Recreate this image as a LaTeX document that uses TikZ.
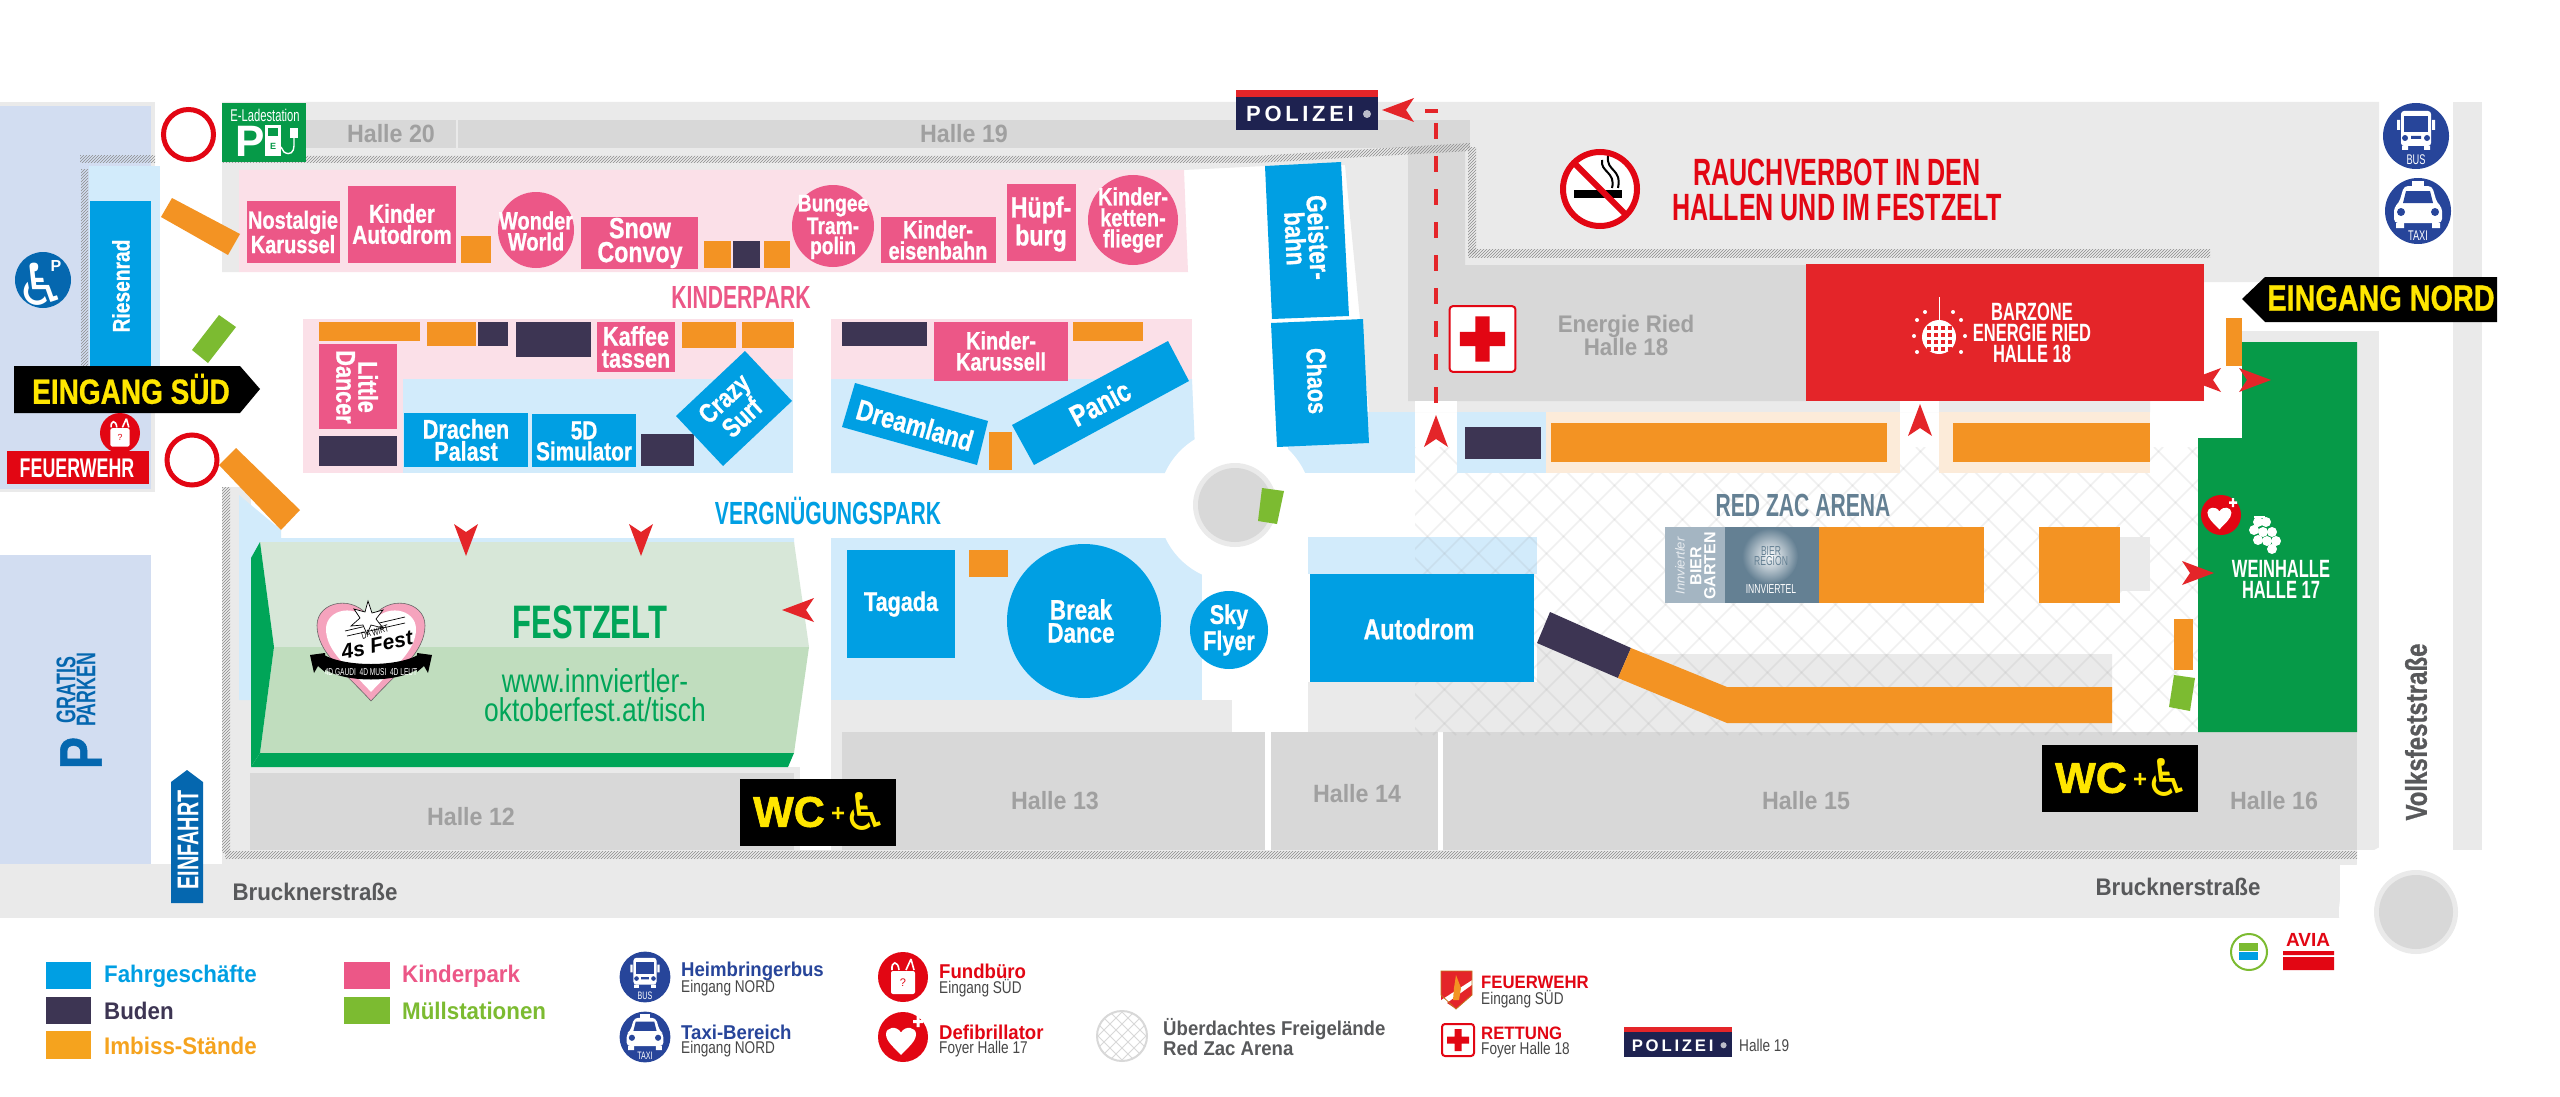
\documentclass[tikz,border=0pt]{standalone}
\usepackage{fontspec}
\usetikzlibrary{patterns}
\setmainfont{Liberation Sans}
\newfontfamily\condfont[FakeStretch=0.8, BoldFeatures={FakeBold=0.8}]{Liberation Sans}
\newfontfamily\halffont[FakeStretch=0.93]{Liberation Sans}
\newfontfamily\dispfont[FakeStretch=0.66]{Liberation Sans}
\newfontfamily\heavyfont[BoldFeatures={FakeBold=1.5}]{Liberation Sans}
\newfontfamily\symfont{DejaVu Sans}
\newcommand{\fsz}[2]{\fontsize{#1}{#2}\selectfont}
\definecolor{ride}{RGB}{0, 159, 227}
\definecolor{ridebg}{RGB}{210, 235, 251}
\definecolor{stall}{RGB}{61, 53, 83}
\definecolor{snack}{RGB}{243, 147, 35}
\definecolor{snackbg}{RGB}{252, 235, 217}
\definecolor{kids}{RGB}{236, 87, 135}
\definecolor{kidsbg}{RGB}{251, 224, 232}
\definecolor{bin}{RGB}{124, 187, 49}
\definecolor{road}{RGB}{234, 234, 234}
\definecolor{hall}{RGB}{216, 216, 216}
\definecolor{hallink}{RGB}{160, 160, 160}
\definecolor{streetink}{RGB}{88, 89, 91}
\definecolor{parking}{RGB}{210, 221, 241}
\definecolor{signblue}{RGB}{5, 103, 175}
\definecolor{navyblue}{RGB}{39, 69, 154}
\definecolor{alarm}{RGB}{228, 37, 41}
\definecolor{rescue}{RGB}{226, 6, 19}
\definecolor{wine}{RGB}{6, 154, 72}
\definecolor{tentgreen}{RGB}{0, 165, 88}
\definecolor{tenttop}{RGB}{215, 231, 216}
\definecolor{tentlow}{RGB}{192, 221, 190}
\definecolor{beerblue}{RGB}{100, 128, 147}
\definecolor{beerlight}{RGB}{164, 181, 194}
\definecolor{police}{RGB}{30, 34, 80}
\definecolor{signyellow}{RGB}{255, 230, 0}
\tikzset{
    every node/.style={inner sep=0pt, align=center},
    condlabel/.style={font=\condfont\bfseries\fsz{#1}{\the\numexpr#1*82/100\relax}},
    halflabel/.style={font=\halffont\bfseries\fsz{#1}{#1}},
    displabel/.style={font=\dispfont\bfseries\fsz{#1}{#1}},
    ridetext/.style={condlabel=#1, text=white},
    halltext/.style={halflabel=25, text=hallink},
    streettext/.style={halflabel=24, text=streetink},
    legendhead/.style={halflabel=24, anchor=west},
    legendtwo/.style={halflabel=20, anchor=west},
    legendsub/.style={font=\condfont\fsz{17}{17}, text=black!72, anchor=west},
    hatchline/.style={pattern=north east lines, pattern color=black!45},
    redtip/.pic={\fill[alarm] (16,0) -- (-16,-12) -- (-8,0) -- (-16,12) -- cycle;},
    busicon/.pic={
        \fill[navyblue] (0,0) circle (33);
        \fill[white, rounded corners=3] (-15,-25) rectangle (15,10);
        \fill[white] (-19,-16) rectangle (-16,-6) (16,-16) rectangle (19,-6);
        \fill[navyblue] (-12,-20) rectangle (12,-4);
        \fill[white] (-12,-24) rectangle (12,-22);
        \fill[navyblue] (-11,2) circle (3) (11,2) circle (3) (-5,0) rectangle (5,3);
        \fill[white] (-14,10) rectangle (-8,14) (8,10) rectangle (14,14);
        \node[transform shape, font=\dispfont\fsz{14}{14}, text=white] (-lab) at (0,24) {BUS};},
    taxiicon/.pic={
        \fill[navyblue] (0,0) circle (33);
        \fill[white] (-6,-30) rectangle (6,-25);
        \fill[white, rounded corners=4] (-14,-25) -- (14,-25) -- (19,-8) -- (24,-4) -- (24,12) -- (-24,12) -- (-24,-4) -- (-19,-8) -- cycle;
        \fill[navyblue] (-12,-20) -- (12,-20) -- (15,-8) -- (-15,-8) -- cycle;
        \fill[navyblue] (-17,1) circle (4) (17,1) circle (4);
        \fill[white] (-22,12) rectangle (-14,17) (14,12) rectangle (22,17);
        \node[transform shape, font=\dispfont\fsz{14}{14}, text=white] (-lab) at (0,25) {TAXI};},
    lostbag/.pic={
        \fill[rescue] (0,0) circle (25);
        \fill[white, rounded corners=2] (-12,-6) rectangle (12,17);
        \draw[white, line width=1.6] (-11,-7) .. controls (-12,-16) and (-5,-17) .. (-4,-7) (3,-7) -- (8,-18) (8,-18) -- (11,-7);
        \node[transform shape, font=\fsz{11}{11}, text=rescue] (-lab) at (0,6) {?};},
    defibicon/.pic={
        \fill[rescue] (0,0) circle (25);
        \fill[white, xshift=-2, yshift=-3, scale=15] (0,1) .. controls (-.5,.45) and (-1,.1) .. (-1,-.4) .. controls (-1,-.85) and (-.3,-1) .. (0,-.5) .. controls (.3,-1) and (1,-.85) .. (1,-.4) .. controls (1,.1) and (.5,.45) .. (0,1) -- cycle;
        \fill[white] (10,-17) rectangle (20,-14) (13.5,-21) rectangle (16.5,-10);},
    rescuebox/.pic={
        \draw[rescue, fill=white, line width=2, rounded corners=3] (-16,-16) rectangle (16,16);
        \fill[rescue] (-3.5,-11) rectangle (3.5,11) (-11,-3.5) rectangle (11,3.5);},
    policesign/.pic={
        \fill[police] (0,0) rectangle (142,40);
        \fill[alarm] (0,0) rectangle (142,7);
        \node[transform shape, font=\bfseries\fsz{22}{22}, text=white] (-lab) at (64,24) {P\,O\,L\,I\,Z\,E\,I};
        \fill[white!70!police] (131,24) circle (4);},
    wcsign/.pic={
        \fill[black] (0,0) rectangle (156,67);
        \node[font=\heavyfont\bfseries\fsz{43}{43}, text=signyellow] (-wc) at (49,33) {WC};
        \node[font=\bfseries\fsz{24}{24}, text=signyellow] (-plus) at (98,35) {+};
        \node[font=\symfont\fsz{52}{52}, text=signyellow] (-chair) at (126,32) {♿};},
}
\begin{document}
\begin{tikzpicture}[x=1pt, y=-1pt]
    \useasboundingbox (0,0) rectangle (2560,1097);
    \fill[white] (0,0) rectangle (2560,1097);
    % Roads and grounds
    \fill[road] (0,102) rectangle (155,492);
    \fill[parking] (0,106) rectangle (151,489);
    \fill[parking] (0,555) rectangle (151,864);
    \fill[road] (222,102) -- (2379,102) -- (2379,282) -- (2204,282) -- (2204,401) -- (2150,401) -- (2150,412)
        -- (1369,412) -- (1345,165) -- (1265,166) -- (1184,170) -- (239,170) -- (239,272) -- (222,272) -- cycle;
    \fill[road] (2242,331) rectangle (2379,850);
    \fill[road] (2453,102) rectangle (2482,850);
    \fill[road] (222,487) rectangle (251,850);
    \fill[road] (222,767) rectangle (800,850);
    \fill[road] (0,864) rectangle (2340,918);
    \fill[road] (222,850) rectangle (2357,865);
    \fill[road] (831,700) rectangle (1232,850);
    \fill[road] (1308,682) -- (1537,682) -- (1537,643) -- (1656,654) -- (2112,654) -- (2112,732) -- (1308,732) -- cycle;
    % Halls
    \fill[hall] (306,120) rectangle (456,148);
    \fill[hall] (458,120) rectangle (1470,148);
    \fill[hall] (1408,148) -- (1465,148) -- (1465,265) -- (1806,265) -- (1806,401) -- (1408,401) -- cycle;
    \fill[hall] (250,773) rectangle (794,850);
    \fill[hall] (842,732) rectangle (1265,850);
    \fill[hall] (1271,732) rectangle (1438,850);
    \fill[hall] (1443,732) rectangle (2357,850);
    \fill[white] (1415,401) rectangle (1457,412);
    \fill[white] (1900,401) rectangle (1939,412);
    % Areas
    \fill[ridebg] (1308,537) rectangle (1537,574);
    \begin{scope}
        \clip (1415,447) rectangle (2198,735);
        \foreach \i in {0,34,...,1200} {
            \draw[black!40, opacity=.14, line width=1.6] (1100+\i,447) -- (1100+\i+288,735);
            \draw[black!40, opacity=.14, line width=1.6] (1415+\i,447) -- (1415+\i-288,735);
        }
    \end{scope}
    \fill[kidsbg] (239,170) -- (1184,170) -- (1188,272) -- (239,272) -- cycle;
    \fill[kidsbg] (303,319) rectangle (793,473);
    \fill[ridebg] (403,379) rectangle (793,473);
    \fill[kidsbg] (831,319) -- (1192,319) -- (1192,379) -- (831,379) -- cycle;
    \fill[ridebg] (831,379) -- (1192,379) -- (1196,473) -- (831,473) -- cycle;
    \fill[ridebg] (1288,412) rectangle (1415,473);
    \fill[ridebg] (1457,412) rectangle (1546,473);
    \fill[snackbg] (1546,412) rectangle (1900,473);
    \fill[snackbg] (1939,412) rectangle (2150,473);
    \fill[ridebg] (831,538) rectangle (1202,700);
    \fill[ridebg] (239,495) -- (281,530) -- (281,538) -- (794,538) -- (794,545) -- (260,545) -- (251,700) -- (239,700) -- cycle;
    \fill[ridebg] (89,166) rectangle (160,366);
    % Roundabouts
    \fill[white] (1235,505) circle (77);
    \fill[road] (1235,505) circle (42);
    \fill[hall] (1235,505) circle (37);
    \fill[white] (2411,912) circle (72);
    \fill[road] (2416,912) circle (42);
    \fill[hall] (2416,912) circle (37);
    % Fence lines
    \fill[hatchline] (80,156) rectangle (155,163);
    \fill[hatchline] (81,170) rectangle (88,366);
    \fill[hatchline] (222,156) -- (1255,156) -- (1470,143) -- (1470,151) -- (1255,163) -- (222,163) -- cycle;
    \fill[hatchline] (1468,148) rectangle (1476,253);
    \fill[hatchline] (1468,249) rectangle (2210,257);
    \fill[hatchline] (222,487) rectangle (230,852);
    \fill[hatchline] (225,851) rectangle (2357,858);
    % Kinderpark top row
    \fill[kids] (247,201) rectangle (340,263);
    \node[ridetext=25] (nostalgie) at (293,232) {Nostalgie\\Karussel};
    \fill[kids] (348,186) rectangle (456,263);
    \node[ridetext=26] (autodromkids) at (402,224) {Kinder\\Autodrom};
    \fill[snack] (461,236) rectangle (491,263);
    \fill[kids] (536,230) circle (38);
    \node[ridetext=25] (wonder) at (536,231) {Wonder\\World};
    \fill[kids] (581,217) rectangle (698,269);
    \node[ridetext=29] (snow) at (640,243) {Snow\\Convoy};
    \fill[snack] (704,241) rectangle (731,268);
    \fill[stall] (733,241) rectangle (760,268);
    \fill[snack] (764,241) rectangle (790,268);
    \fill[kids] (833,226) circle (41);
    \node[ridetext=24] (bungee) at (833,227) {Bungee\\Tram-\\polin};
    \fill[kids] (881,217) rectangle (996,263);
    \node[ridetext=25] (eisenbahn) at (938,240) {Kinder-\\eisenbahn};
    \fill[kids] (1007,184) rectangle (1076,261);
    \node[ridetext=29] (huepfburg) at (1041,224) {Hüpf-\\burg};
    \fill[kids] (1133,220) circle (45);
    \node[ridetext=25] (flieger) at (1133,220) {Kinder-\\ketten-\\flieger};
    \node[displabel=32, text=kids] (kinderpark) at (741,297) {KINDERPARK};
    % Kinderpark left block
    \fill[snack] (319,322) rectangle (420,341);
    \fill[snack] (427,322) rectangle (476,346);
    \fill[stall] (478,322) rectangle (508,346);
    \fill[stall] (516,322) rectangle (591,357);
    \fill[kids] (597,322) rectangle (675,372);
    \node[ridetext=27] (kaffee) at (636,347) {Kaffee\\tassen};
    \fill[snack] (682,322) rectangle (736,348);
    \fill[snack] (742,322) rectangle (794,348);
    \fill[kids] (319,344) rectangle (397,429);
    \node[ridetext=27, rotate=-90] (dancer) at (357,387) {Little\\Dancer};
    \fill[stall] (319,436) rectangle (397,466);
    \fill[ride] (404,413) rectangle (528,467);
    \node[ridetext=27] (drachen) at (466,440) {Drachen\\Palast};
    \fill[ride] (532,414) rectangle (636,467);
    \node[ridetext=26] (simulator) at (584,441) {5D\\Simulator};
    \fill[stall] (641,434) rectangle (694,466);
    \fill[ride] (745,351) -- (792,401) -- (723,466) -- (676,416) -- cycle;
    \node[ridetext=27, rotate=43] (crazy) at (733,408) {Crazy\\Surf};
    % Kinderpark right block
    \fill[stall] (842,322) rectangle (927,346);
    \fill[kids] (934,322) rectangle (1068,381);
    \node[ridetext=25] (karussell) at (1001,351) {Kinder-\\Karussell};
    \fill[snack] (1073,322) rectangle (1143,341);
    \fill[ride] (855,383) -- (988,421) -- (977,465) -- (842,427) -- cycle;
    \node[ridetext=29, rotate=-16] (dreamland) at (915,425) {Dreamland};
    \fill[snack] (989,432) rectangle (1012,470);
    \fill[ride] (1168,341) -- (1189,381) -- (1034,465) -- (1012,425) -- cycle;
    \node[ridetext=30, rotate=28] (panic) at (1100,403) {Panic};
    % Middle rides
    \fill[ride] (1265,166) -- (1341,162) -- (1349,316) -- (1272,319) -- cycle;
    \node[ridetext=28, rotate=-87] (geister) at (1307,238) {Geister-\\bahn};
    \fill[ride] (1271,323) -- (1363,319) -- (1369,443) -- (1277,447) -- cycle;
    \node[ridetext=27, rotate=-88] (chaos) at (1317,381) {Chaos};
    \fill[bin] (1262,488) -- (1284,491) -- (1277,524) -- (1258,521) -- cycle;
    \node[displabel=32, text=ride] (vergnuegen) at (828,511) {VERGNÜGUNGSPARK};
    % Vergnuegungspark block
    \fill[ride] (847,550) rectangle (955,658);
    \node[ridetext=27] (tagada) at (901,604) {Tagada};
    \fill[snack] (969,550) rectangle (1008,577);
    \fill[ride] (1084,621) circle (77);
    \node[ridetext=28] (breakdance) at (1081,621) {Break\\Dance};
    \fill[ride] (1229,630) circle (39);
    \node[ridetext=27] (skyflyer) at (1229,630) {Sky\\Flyer};
    \fill[ride] (1310,574) rectangle (1534,682);
    \node[ridetext=29] (autodrom) at (1419,629) {Autodrom};
    % Snack rows
    \fill[stall] (1550,612) -- (1631,648) -- (1618,678) -- (1537,643) -- cycle;
    \fill[snack] (1631,648) -- (1727,687) -- (2112,687) -- (2112,723) -- (1727,723) -- (1618,678) -- cycle;
    \fill[stall] (1465,427) rectangle (1541,459);
    \fill[snack] (1551,423) rectangle (1887,462);
    \fill[snack] (1953,423) rectangle (2150,462);
    % Festzelt
    \fill[tenttop] (260,542) -- (794,542) -- (809,647) -- (274,647) -- cycle;
    \fill[tentlow] (274,647) -- (809,647) -- (794,753) -- (260,753) -- cycle;
    \fill[tentgreen] (260,542) -- (274,647) -- (260,753) -- (251,767) -- (251,558) -- cycle;
    \fill[tentgreen] (260,753) -- (794,753) -- (788,767) -- (251,767) -- cycle;
    \node[displabel=47, text=tentgreen] (festzelt) at (590,622) {FESTZELT};
    \node[font=\condfont\fsz{33}{29}, text=tentgreen] (festurl) at (595,695) {www.innviertler-\\oktoberfest.at/tisch};
    % Festzelt logo
    \begin{scope}[shift={(371,647)}]
        \fill[kids!55!white, draw=black!60, line width=.6, scale=54] (0,1) .. controls (-.5,.45) and (-1,.1) .. (-1,-.4) .. controls (-1,-.85) and (-.3,-1) .. (0,-.5) .. controls (.3,-1) and (1,-.85) .. (1,-.4) .. controls (1,.1) and (.5,.45) .. (0,1) -- cycle;
        \fill[white, scale=45] (0,1) .. controls (-.5,.45) and (-1,.1) .. (-1,-.4) .. controls (-1,-.85) and (-.3,-1) .. (0,-.5) .. controls (.3,-1) and (1,-.85) .. (1,-.4) .. controls (1,.1) and (.5,.45) .. (0,1) -- cycle;
        \draw[black, line width=.7] (-26,-16) -- (34,-30) (-24,-11) -- (34,-24) (-14,28) -- (28,16);
        \draw[black, fill=white, line width=.7] (-3,-46) -- (1,-34) -- (12,-37) -- (5,-28) -- (12,-19) -- (0,-22) -- (-4,-13) -- (-8,-22) -- (-20,-21) -- (-11,-29) -- (-17,-38) -- (-6,-35) -- cycle;
        \node[font=\dispfont\fsz{10}{10}, text=black, rotate=16] (logowirt) at (4,-15) {DA WIRT};
        \node[font=\bfseries\itshape\fsz{21}{21}, text=black, rotate=12] (logofest) at (6,-2) {4s Fest};
        \fill[black] (-61,8) -- (-46,6) -- (-46,25) -- (-53,19) -- (-57,26) -- cycle;
        \fill[black] (61,8) -- (46,6) -- (46,25) -- (53,19) -- (57,26) -- cycle;
        \fill[black] (-47,8) .. controls (-25,20) and (25,20) .. (47,8) -- (47,22) .. controls (25,36) and (-25,36) .. (-47,22) -- cycle;
        \node[font=\dispfont\fsz{10}{10}, text=white] (logotext) at (0,25) {4D GAUDI\ \ 4D MUSI\ \ 4D LEUT};
    \end{scope}
    % Hall labels
    \node[halltext] (halle20) at (391,134) {Halle 20};
    \node[halltext] (halle19) at (964,134) {Halle 19};
    \node[halltext, font=\halffont\bfseries\fsz{24}{23}] (halle18) at (1626,335) {Energie Ried\\Halle 18};
    \node[halltext] (halle12) at (471,817) {Halle 12};
    \node[halltext] (halle13) at (1055,801) {Halle 13};
    \node[halltext] (halle14) at (1357,794) {Halle 14};
    \node[halltext] (halle15) at (1806,801) {Halle 15};
    \node[halltext] (halle16) at (2274,801) {Halle 16};
    % Streets
    \node[streettext] (street1) at (315,892) {Brucknerstraße};
    \node[streettext] (street2) at (2178,887) {Brucknerstraße};
    \node[condlabel=30, text=streetink, rotate=90] (street3) at (2416,732) {Volksfeststraße};
    % Barzone
    \fill[alarm] (1806,264) rectangle (2204,401);
    \node[font=\dispfont\bfseries\fsz{25}{21}, text=white] (barzone) at (2032,333) {BARZONE\\ENERGIE RIED\\HALLE 18};
    \draw[white, line width=.8] (1939,297) -- (1939,320);
    \fill[white] (1939,337) circle (17);
    \foreach \dx in {-10,-3,4,11} \foreach \dy in {-9,-2,5,12} \fill[alarm] (1939+\dx-2,337+\dy-2) rectangle +(3.5,3.5);
    \foreach \sx/\sy in {1917/320, 1914/336, 1917/352, 1961/320, 1965/336, 1961/352, 1925/312, 1953/312}
        \fill[white] (\sx,\sy) circle (2);
    % Weinhalle
    \fill[wine] (2242,342) -- (2357,342) -- (2357,732) -- (2198,732) -- (2198,438) -- (2242,438) -- cycle;
    \node[font=\dispfont\bfseries\fsz{25}{21}, text=white] (weinhalle) at (2281,579) {WEINHALLE\\HALLE 17};
    \foreach \gx/\gy in {2258/522, 2266/522, 2254/530, 2263/532, 2272/532, 2258/540, 2267/541, 2276/541, 2272/549} \fill[white] (\gx,\gy) circle (5);
    \draw[white, line width=1.4] (2265,517) -- (2254,517);
    \pic[scale=.8] (defibmap) at (2221,515) {defibicon};
    % Red Zac Arena
    \node[displabel=32, text=beerblue] (redzac) at (1803,505) {RED ZAC ARENA};
    \fill[beerlight] (1665,527) rectangle (1725,603);
    \fill[beerblue] (1725,527) rectangle (1819,603);
    \node[font=\itshape\fsz{13}{13}, text=white!75!beerlight, rotate=90] (beer1) at (1680,566) {Innviertler};
    \node[font=\bfseries\fsz{16}{14}, text=white, rotate=90] (beer2) at (1703,566) {BIER\\GARTEN};
    \shade[inner color=white, outer color=beerblue] (1770,556) circle (28);
    \node[font=\dispfont\fsz{13}{9}, text=beerblue] (beer3) at (1771,556) {BIER\\REGION};
    \node[font=\dispfont\fsz{13}{13}, text=white] (beer4) at (1771,589) {INNVIERTEL};
    \fill[snack] (1819,527) rectangle (1984,603);
    \fill[snack] (2039,527) rectangle (2120,603);
    \fill[road] (2120,537) rectangle (2150,591);
    \fill[snack] (2174,619) rectangle (2193,670);
    \fill[bin] (2174,675) -- (2195,678) -- (2190,711) -- (2169,707) -- cycle;
    % North entrance
    \fill[snack] (2226,318) rectangle (2242,366);
    \fill[black] (2497,277) -- (2265,277) -- (2242,299) -- (2265,322) -- (2497,322) -- cycle;
    \node[font=\condfont\bfseries\fsz{36}{36}, text=signyellow] (eingangnord) at (2381,298) {EINGANG NORD};
    \pic (bus) at (2416,136) {busicon};
    \pic (taxi) at (2418,211) {taxiicon};
    % West side
    \fill[ride] (90,201) rectangle (151,366);
    \node[ridetext=24, rotate=90] (riesenrad) at (121,286) {Riesenrad};
    \draw[rescue, line width=5] (188.5,134.5) circle (25);
    \draw[rescue, line width=5] (192,460) circle (25);
    \fill[snack] (161,217) -- (172,198) -- (240,234) -- (228,255) -- cycle;
    \fill[snack] (219,465) -- (236,448) -- (300,510) -- (281,530) -- cycle;
    \fill[bin] (192,350) -- (219,315) -- (236,327) -- (208,363) -- cycle;
    \fill[black] (14,366) -- (240,366) -- (260,389) -- (240,413) -- (14,413) -- cycle;
    \node[font=\condfont\bfseries\fsz{35}{35}, text=signyellow] (eingangsued) at (131,389) {EINGANG SÜD};
    \fill[rescue] (7,451) rectangle (149,484);
    \node[font=\dispfont\bfseries\fsz{27}{27}, text=white] (feuerwehrmap) at (77,468) {FEUERWEHR};
    \pic[scale=.8] (fundmap) at (120,433) {lostbag};
    \fill[signblue] (43,280) circle (28);
    \node[font=\symfont\fsz{58}{58}, text=white] (parkchair) at (41,284) {♿};
    \node[font=\bfseries\fsz{16}{16}, text=white] (parkchairp) at (56,266) {P};
    % Parking and Einfahrt
    \node[font=\condfont\bfseries\fsz{60}{60}, text=signblue, rotate=90] (parkp) at (81,753) {P};
    \node[font=\dispfont\bfseries\fsz{27}{20}, text=signblue, rotate=90] (gratis) at (76,690) {GRATIS\\PARKEN};
    \fill[signblue] (171,903) -- (171,782) -- (187,770) -- (203,782) -- (203,903) -- cycle;
    \node[displabel=30, text=white, rotate=90] (einfahrt) at (188,840) {EINFAHRT};
    % E-Ladestation
    \fill[wine] (222,103) rectangle (306,162);
    \node[font=\dispfont\fsz{17}{17}, text=white] (eladetext) at (265,115) {E-Ladestation};
    \node[font=\bfseries\fsz{44}{44}, text=white] (eladep) at (250,141) {P};
    \fill[white] (265,125) rectangle (281,156);
    \fill[wine] (268,128) rectangle (278,136);
    \node[font=\bfseries\fsz{9}{9}, text=wine] (eladee) at (273,146) {E};
    \draw[white, line width=1.4] (281,147) -- (284,152) .. controls (290,156) and (294,152) .. (294,146) -- (294,138);
    \fill[white] (290,128) rectangle (298,138);
    % Police route
    \draw[alarm, line width=4.5] (1425,111) -- (1438,111);
    \draw[alarm, line width=4.5, dash pattern=on 16pt off 17pt] (1436,123) -- (1436,405);
    \pic[rotate=180] (tippolice) at (1398,110) {redtip};
    \pic[rotate=90] (tipup) at (1436,431) {redtip};
    \pic (police) at (1236,90) {policesign};
    % Red entry tips
    \pic[rotate=-90] (tipfest1) at (466,540) {redtip};
    \pic[rotate=-90] (tipfest2) at (641,540) {redtip};
    \pic[rotate=180] (tipfest3) at (798,610) {redtip};
    \pic[rotate=90] (tipbar1) at (1920,420) {redtip};
    \pic[rotate=180] (tipbar2) at (2205,380) {redtip};
    \pic (tipbar3) at (2255,380) {redtip};
    \pic (tipwine) at (2198,573) {redtip};
    % Rettung and Rauchverbot
    \pic[scale=2.05] (rescuemap) at (1482.5,339) {rescuebox};
    \fill[white] (1600,189) circle (38);
    \fill[black] (1574,190) rectangle (1622,198);
    \draw[black, line width=2] (1612,188) .. controls (1616,172) and (1600,172) .. (1602,160);
    \draw[black, line width=2] (1618,188) .. controls (1622,168) and (1606,172) .. (1608,156);
    \draw[rescue, line width=6] (1600,189) circle (37);
    \draw[rescue, line width=6] (1574,163) -- (1626,215);
    \node[font=\dispfont\bfseries\fsz{38}{35}, text=rescue] (rauchverbot) at (1837,190) {RAUCHVERBOT IN DEN\\HALLEN UND IM FESTZELT};
    % WC signs
    \pic (wc1) at (740,779) {wcsign};
    \pic (wc2) at (2042,745) {wcsign};
    % Legend colours
    \fill[ride] (46,962) rectangle (91,989);
    \node[legendhead, text=ride] (lgride) at (104,976) {Fahrgeschäfte};
    \fill[stall] (46,997) rectangle (91,1024);
    \node[legendhead, text=stall] (lgstall) at (104,1011) {Buden};
    \fill[snack!85!yellow] (46,1031) rectangle (91,1059);
    \node[legendhead, text=snack!85!yellow] (lgsnack) at (104,1046) {Imbiss-Stände};
    \fill[kids] (344,962) rectangle (390,989);
    \node[legendhead, text=kids] (lgkids) at (402,976) {Kinderpark};
    \fill[bin] (344,997) rectangle (390,1024);
    \node[legendhead, text=bin] (lgbin) at (402,1011) {Müllstationen};
    % Legend services
    \pic[scale=.77] (lgbus) at (645,977) {busicon};
    \node[legendtwo, text=navyblue] (lgbustxt) at (681,971) {Heimbringerbus};
    \node[legendsub] (lgbussub) at (681,988) {Eingang NORD};
    \pic[scale=.77] (lgtaxi) at (645,1037) {taxiicon};
    \node[legendtwo, text=navyblue] (lgtaxitxt) at (681,1032) {Taxi-Bereich};
    \node[legendsub] (lgtaxisub) at (681,1049) {Eingang NORD};
    \pic (lgfund) at (903,977) {lostbag};
    \node[legendtwo, text=rescue] (lgfundtxt) at (939,971) {Fundbüro};
    \node[legendsub] (lgfundsub) at (939,988) {Eingang SÜD};
    \pic (lgdefib) at (903,1037) {defibicon};
    \node[legendtwo, text=rescue] (lgdefibtxt) at (939,1032) {Defibrillator};
    \node[legendsub] (lgdefibsub) at (939,1049) {Foyer Halle 17};
    \begin{scope}
        \clip (1122,1036) circle (25);
        \foreach \i in {-60,-48,...,60} {
            \draw[hall, line width=1] (1122+\i-30,1006) -- (1122+\i+30,1066);
            \draw[hall, line width=1] (1122+\i+30,1006) -- (1122+\i-30,1066);
        }
    \end{scope}
    \draw[hall, line width=2] (1122,1036) circle (25);
    \node[font=\halffont\bfseries\fsz{20}{20}, text=streetink, anchor=west, align=left] (lgarena) at (1163,1037) {Überdachtes Freigelände\\Red Zac Arena};
    \fill[white] (1441,971) rectangle (1472,990);
    \fill[alarm] (1441,971) -- (1472,971) -- (1472,980) -- (1441,1000) -- cycle;
    \fill[alarm] (1447,1003) -- (1472,985) -- (1472,995) -- (1456,1009) -- cycle;
    \fill[snack] (1456,975) -- (1461,988) -- (1459,1000) -- (1453,1000) -- (1454,988) -- cycle;
    \draw[snack!80!black, line width=.8] (1441,971) -- (1472,971) -- (1472,995) -- (1456,1009) -- (1441,995) -- cycle;
    \node[halflabel=18, anchor=west, text=rescue] (lgfire) at (1481,982) {FEUERWEHR};
    \node[legendsub] (lgfiresub) at (1481,999) {Eingang SÜD};
    \pic (lgrescue) at (1458,1040) {rescuebox};
    \node[halflabel=18, anchor=west, text=rescue] (lgrescuetxt) at (1481,1033) {RETTUNG};
    \node[legendsub] (lgrescuesub) at (1481,1050) {Foyer Halle 18};
    \pic[scale=.76] (lgpolice) at (1624,1027) {policesign};
    \node[legendsub] (lgpolicesub) at (1739,1045) {Halle 19};
    % Petrol signs
    \draw[bin, line width=2] (2249,952) circle (18);
    \fill[bin] (2239,943) rectangle (2258,951);
    \fill[ride] (2239,952) rectangle (2258,960);
    \node[font=\bfseries\fsz{19}{19}, text=rescue] (avia) at (2308,940) {AVIA};
    \fill[rescue] (2283,951) rectangle (2334,955) (2283,957) rectangle (2334,970);
\end{tikzpicture}
\end{document}
